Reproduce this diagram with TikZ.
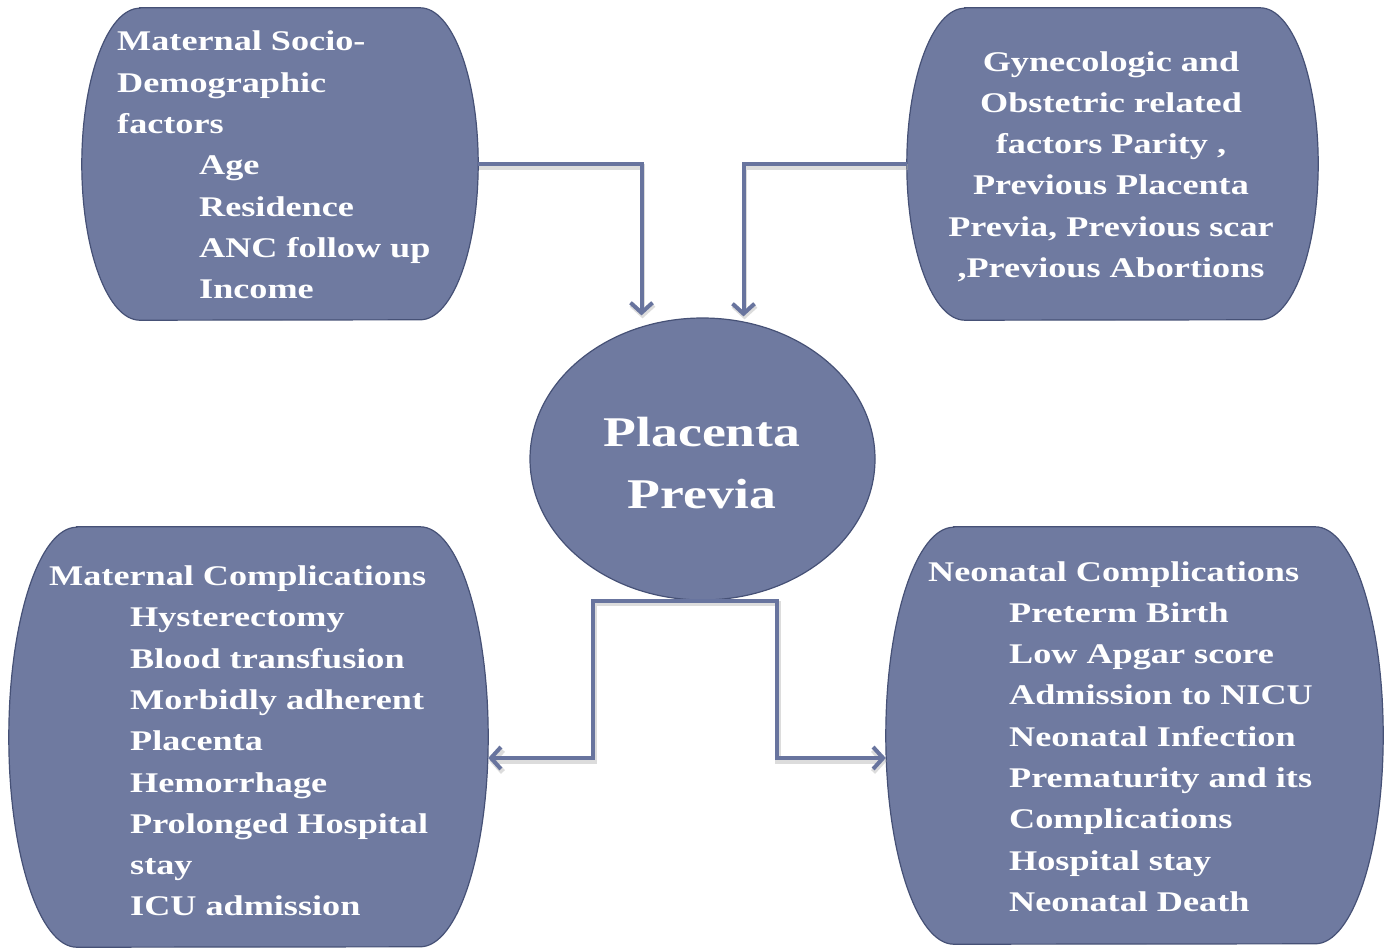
\documentclass[tikz,border=0pt]{standalone}
\usepackage{fontspec}
\setmainfont{Liberation Serif}[FakeStretch=1.27]
\usetikzlibrary{shapes.geometric,arrows.meta}

\definecolor{podblue}{RGB}{111,122,160}
\definecolor{podedge}{RGB}{70,81,118}
\definecolor{linkblue}{RGB}{104,116,158}

\newcommand{\podoutline}[3]{%
\filldraw[podline] ([xshift=#3]#1.north west) -- ([xshift=-#3]#1.north east)
 arc[start angle=90, end angle=-90, x radius=#3, y radius=#2]
 -- ([xshift=#3]#1.south west)
 arc[start angle=270, end angle=90, x radius=#3, y radius=#2] -- cycle;}

\begin{document}
\begin{tikzpicture}[x=1pt, y=-1pt]

\tikzset{%
every node/.style={inner sep=0pt},%
every path/.style={line join=miter}%
}

\tikzstyle{pod}=[rectangle]
\tikzstyle{podline}=[fill=podblue, draw=podedge, line width=1.2pt]
\tikzstyle{hub}=[ellipse, fill=podblue, draw=podedge, line width=1.2pt, minimum width=345pt, minimum height=282pt]
\tikzstyle{podtext}=[text=white, anchor=base west, font=\bfseries\fontsize{28.5}{41.3}\selectfont]
\tikzstyle{hubtext}=[text=white, anchor=base, font=\bfseries\fontsize{42.3}{62}\selectfont]
\tikzstyle{link}=[draw=linkblue, line width=4pt, -{Straight Barb[length=10pt,width=22pt]},
 preaction={draw=black!30, opacity=.45, line width=5.5pt, transform canvas={xshift=1pt, yshift=-3pt}}]

\useasboundingbox (0,0) rectangle (1391,950);

\node[pod, minimum width=396pt, minimum height=312pt] (socio) at (280,164) {};
\podoutline{socio}{156pt}{58pt}
\node[pod, minimum width=411pt, minimum height=312pt] (gyn) at (1112.5,164) {};
\podoutline{gyn}{156pt}{58pt}
\node[pod, minimum width=479pt, minimum height=420pt] (matc) at (248.5,737) {};
\podoutline{matc}{210pt}{68pt}
\node[pod, minimum width=497pt, minimum height=417pt] (neoc) at (1134.5,735.5) {};
\podoutline{neoc}{208.5pt}{68pt}

\node[hub] (previa) at (702.5,459) {};

\node[podtext] (socio-t) at (117,51) {\parbox[t]{360pt}{Maternal Socio-\\
Demographic\\
factors\\
\hspace*{82pt}Age\\
\hspace*{82pt}Residence\\
\hspace*{82pt}ANC follow up\\
\hspace*{82pt}Income}};

\node[podtext, anchor=base] (gyn-t) at (1111,71) {\parbox[t]{400pt}{\centering
Gynecologic and\\
Obstetric related\\
factors Parity ,\\
Previous Placenta\\
Previa, Previous scar\\
,Previous Abortions}};

\node[podtext] (matc-t) at (49,585.5) {\parbox[t]{440pt}{Maternal Complications\\
\hspace*{81pt}Hysterectomy\\
\hspace*{81pt}Blood transfusion\\
\hspace*{81pt}Morbidly adherent\\
\hspace*{81pt}Placenta\\
\hspace*{81pt}Hemorrhage\\
\hspace*{81pt}Prolonged Hospital\\
\hspace*{81pt}stay\\
\hspace*{81pt}ICU admission}};

\node[podtext] (neoc-t) at (928,581) {\parbox[t]{450pt}{Neonatal Complications\\
\hspace*{81pt}Preterm Birth\\
\hspace*{81pt}Low Apgar score\\
\hspace*{81pt}Admission to NICU\\
\hspace*{81pt}Neonatal Infection\\
\hspace*{81pt}Prematurity and its\\
\hspace*{81pt}Complications\\
\hspace*{81pt}Hospital stay\\
\hspace*{81pt}Neonatal Death}};

\node[hubtext] (previa-t) at (702,446) {\parbox[t]{300pt}{\centering Placenta\\Previa}};

\draw[link] (socio.east) -| ([xshift=-61pt, yshift=2pt]previa.north);
\draw[link] (gyn.west) -| ([xshift=41pt, yshift=1pt]previa.north);
\draw[link] (previa.south) -- ++(-109.5pt,0) |- ([yshift=-21pt]matc.east);
\draw[link] (previa.south) -- ++(74.5pt,0) |- ([yshift=-22.5pt]neoc.west);

\end{tikzpicture}
\end{document}
